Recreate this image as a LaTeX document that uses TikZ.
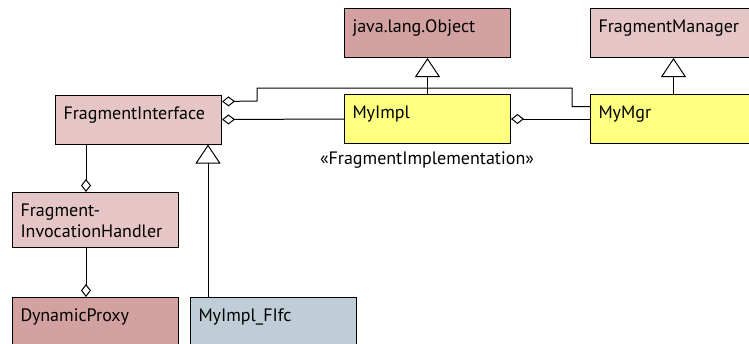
\documentclass[tikz,border=0pt]{standalone}
\usepackage{fontspec}
\setmainfont{PT Sans}
\usetikzlibrary{arrows.meta,positioning}
\definecolor{lightrose}{RGB}{230,197,199}
\definecolor{darkrose}{RGB}{212,161,161}
\definecolor{implyellow}{RGB}{255,255,128}
\definecolor{ifcblue}{RGB}{190,205,214}
\tikzstyle{Ubox}=[shape=rectangle,draw=black,line width=1pt,anchor=north west,
  inner xsep=8pt,inner ysep=0pt,text width=150pt,align=left,
  text height=24pt,text depth=25pt,font=\fontsize{18}{21}\selectfont]
\tikzstyle{agg}=[-{Diamond[open,length=13pt,width=10pt]},line width=1pt]
\tikzstyle{inh}=[-{Triangle[open,length=19pt,width=25pt]},line width=1pt]

\begin{document}
\begin{tikzpicture}[x=10pt,y=-10pt]
 \useasboundingbox (0,0) rectangle (74.9,34.3);

 \node[Ubox,fill=darkrose] (Obj) at (34.4,0.8) {java.lang.Object};
 \node[Ubox,fill=lightrose] (FM) at (59,0.8) {FragmentManager};

 \node[Ubox,fill=lightrose] (FI) at (5.5,9.45) {FragmentInterface};
 \node[Ubox,fill=implyellow] (MyImpl) at (34.4,9.4) {MyImpl};
 \node[Ubox,fill=implyellow] (MyMgr) at (59,9.4) {MyMgr};
 \node[anchor=base,font=\fontsize{18}{21}\selectfont] (stereo) at (42.7,16.4) {«FragmentImplementation»};

 \node[Ubox,fill=lightrose,text depth=31pt] (FIH) at (1.2,19.2) {Fragment-\\InvocationHandler};
 \node[Ubox,fill=darkrose] (DP) at (1.2,29.7) {DynamicProxy};
 \node[Ubox,fill=ifcblue] (FIfc) at (19,29.7) {MyImpl\_FIfc};

 \coordinate (hx) at (8.6,0);
 \coordinate (ix) at (20.8,0);

 % aggregations
 \draw[agg] (FI.south -| hx) -- (FIH.north -| hx);
 \draw[agg] (FIH.south -| hx) -- (DP.north -| hx);
 \draw[agg] (MyImpl.west) -- (FI.east);
 \draw[agg] (MyMgr.west) -- (MyImpl.east);
 \draw[agg] ([yshift=12.5pt]MyMgr.west) -| (57.2,8.8) -| (25.7,10.1) -- ([yshift=18pt]FI.east);

 % generalizations
 \draw[inh] (FIfc.north -| ix) -- (FI.south -| ix);
 \draw[inh] (MyImpl.north) -- (Obj.south);
 \draw[inh] (MyMgr.north) -- (FM.south);
\end{tikzpicture}
\end{document}
